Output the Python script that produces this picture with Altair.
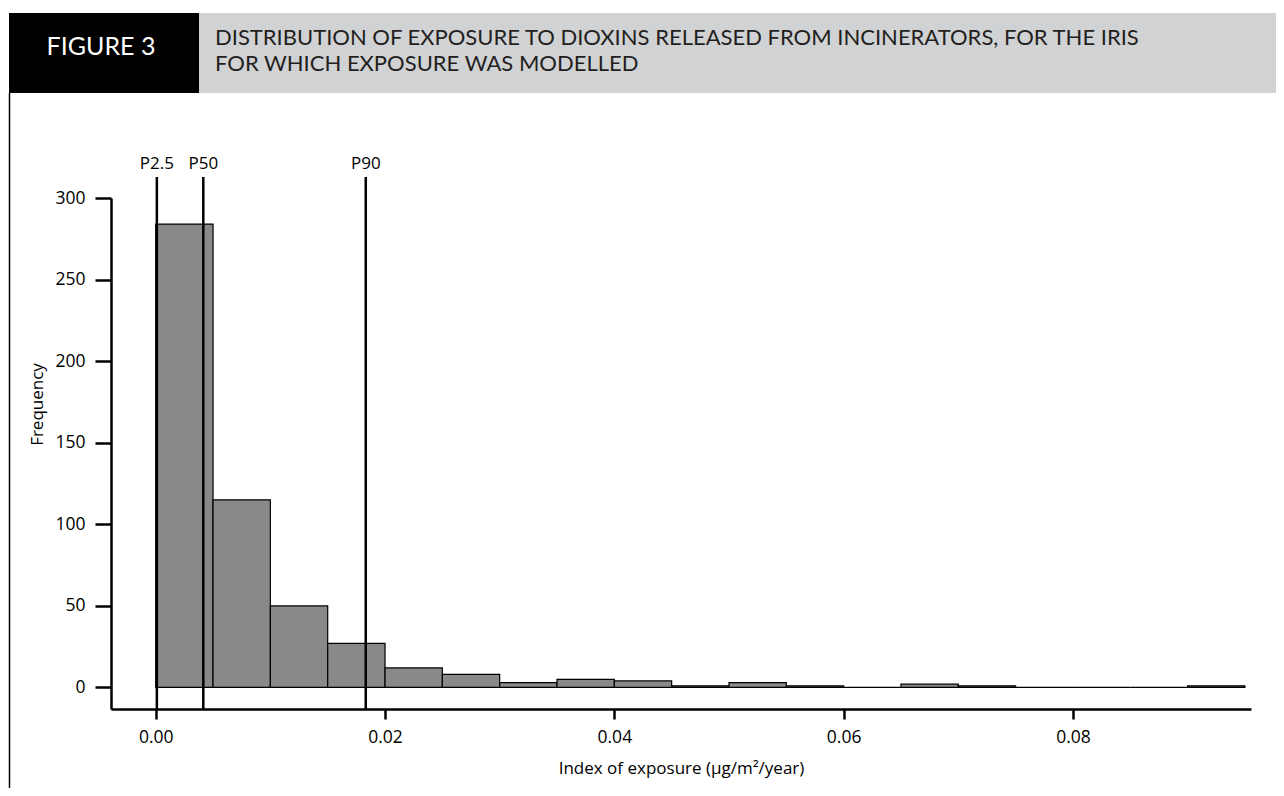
import altair as alt
import pandas as pd

# ---------------- data ----------------
bin_starts = [0.000, 0.005, 0.010, 0.015, 0.020, 0.025, 0.030, 0.035, 0.040, 0.045,
              0.050, 0.055, 0.060, 0.065, 0.070, 0.075, 0.080, 0.085, 0.090]
bin_ends = [0.005, 0.010, 0.015, 0.020, 0.025, 0.030, 0.035, 0.040, 0.045, 0.050,
            0.055, 0.060, 0.065, 0.070, 0.075, 0.080, 0.085, 0.090, 0.095]
counts = [284, 115, 50, 27, 12, 8, 3, 5, 4, 1, 3, 1, 0, 2, 1, 0, 0, 0, 1]

pct_labels = ["P2.5", "P50", "P90"]
pct_values = [0.0001, 0.00415, 0.01832]

x_ticks = [0.00, 0.02, 0.04, 0.06, 0.08]
y_ticks = [0, 50, 100, 150, 200, 250, 300]

figure_label = "FIGURE 3"
title_lines = [
    "DISTRIBUTION OF EXPOSURE TO DIOXINS RELEASED FROM INCINERATORS, FOR THE IRIS",
    "FOR WHICH EXPOSURE WAS MODELLED",
]
x_title = "Index of exposure (µg/m²/year)"
y_title = "Frequency"

# ---------------- layout ----------------
W, H = 1140, 511
FONT = "Open Sans"
HFONT = "Lato"

hist_df = pd.DataFrame({"start": bin_starts, "end": bin_ends, "count": counts})
pct_df = pd.DataFrame({"label": pct_labels, "value": pct_values})
one = pd.DataFrame({"k": [0]})

xscale = alt.Scale(domain=[-0.0039, 0.09553], nice=False, zero=False)
yscale = alt.Scale(domain=[-13.2, 300], nice=False, zero=False)

xaxis = alt.Axis(values=x_ticks, format=".2f", title=x_title, tickSize=10,
                 labelPadding=9, titleY=64, titleBaseline="alphabetic")
yaxis = alt.Axis(values=y_ticks, title=y_title, tickSize=16, labelPadding=10,
                 titleX=-69, titleY=206, titleAngle=-90, titleAlign="center",
                 titleBaseline="alphabetic")

bars = alt.Chart(hist_df).mark_rect(fill="#88898b", stroke="black", strokeWidth=1.2).encode(
    x=alt.X("start:Q", scale=xscale, axis=xaxis),
    x2="end:Q",
    y=alt.Y("count:Q", scale=yscale, axis=yaxis),
    y2=alt.datum(0),
)

rules = alt.Chart(pct_df).mark_rule(color="black", strokeWidth=2.5).encode(
    x="value:Q", y=alt.value(H), y2=alt.value(-21)
)

plabels = alt.Chart(pct_df).mark_text(font=FONT, fontSize=17, baseline="middle",
                                      color="black").encode(
    x="value:Q", y=alt.value(-34), text="label:N"
)

black_box = alt.Chart(one).mark_rect(color="black").encode(
    x=alt.value(-102), x2=alt.value(88), y=alt.value(-185), y2=alt.value(-105)
)
gray_band = alt.Chart(one).mark_rect(color="#d1d2d4").encode(
    x=alt.value(88), x2=alt.value(1200), y=alt.value(-185), y2=alt.value(-105)
)
frame = alt.Chart(one).mark_rule(color="black", strokeWidth=1.5).encode(
    x=alt.value(-101.5), y=alt.value(-105), y2=alt.value(620)
)
fig_text = alt.Chart(one).mark_text(font=HFONT, fontSize=25, color="white",
                                    align="center", baseline="middle").encode(
    x=alt.value(-10), y=alt.value(-151), text=alt.value(figure_label)
)
t1 = alt.Chart(one).mark_text(font=HFONT, fontSize=22, color="#231f20",
                              align="left", baseline="middle").encode(
    x=alt.value(104), y=alt.value(-160), text=alt.value(title_lines[0])
)
t2 = alt.Chart(one).mark_text(font=HFONT, fontSize=22, color="#231f20",
                              align="left", baseline="middle").encode(
    x=alt.value(104), y=alt.value(-134), text=alt.value(title_lines[1])
)

chart = alt.layer(gray_band, black_box, frame, fig_text, t1, t2, bars, rules, plabels).properties(
    width=W, height=H,
    autosize=alt.AutoSizeParams(type="none"),
    padding={"left": 103, "top": 190, "right": 25, "bottom": 79},
).configure_view(stroke=None).configure_axis(
    grid=False, domainColor="black", domainWidth=2.5, tickColor="black", tickWidth=2.5,
    labelFont=FONT, labelFontSize=17.5, labelColor="black",
    titleFont=FONT, titleFontSize=17, titleColor="black", titleFontWeight="normal",
)

chart.save("out.html", embed_options={"renderer": "svg", "actions": False})
